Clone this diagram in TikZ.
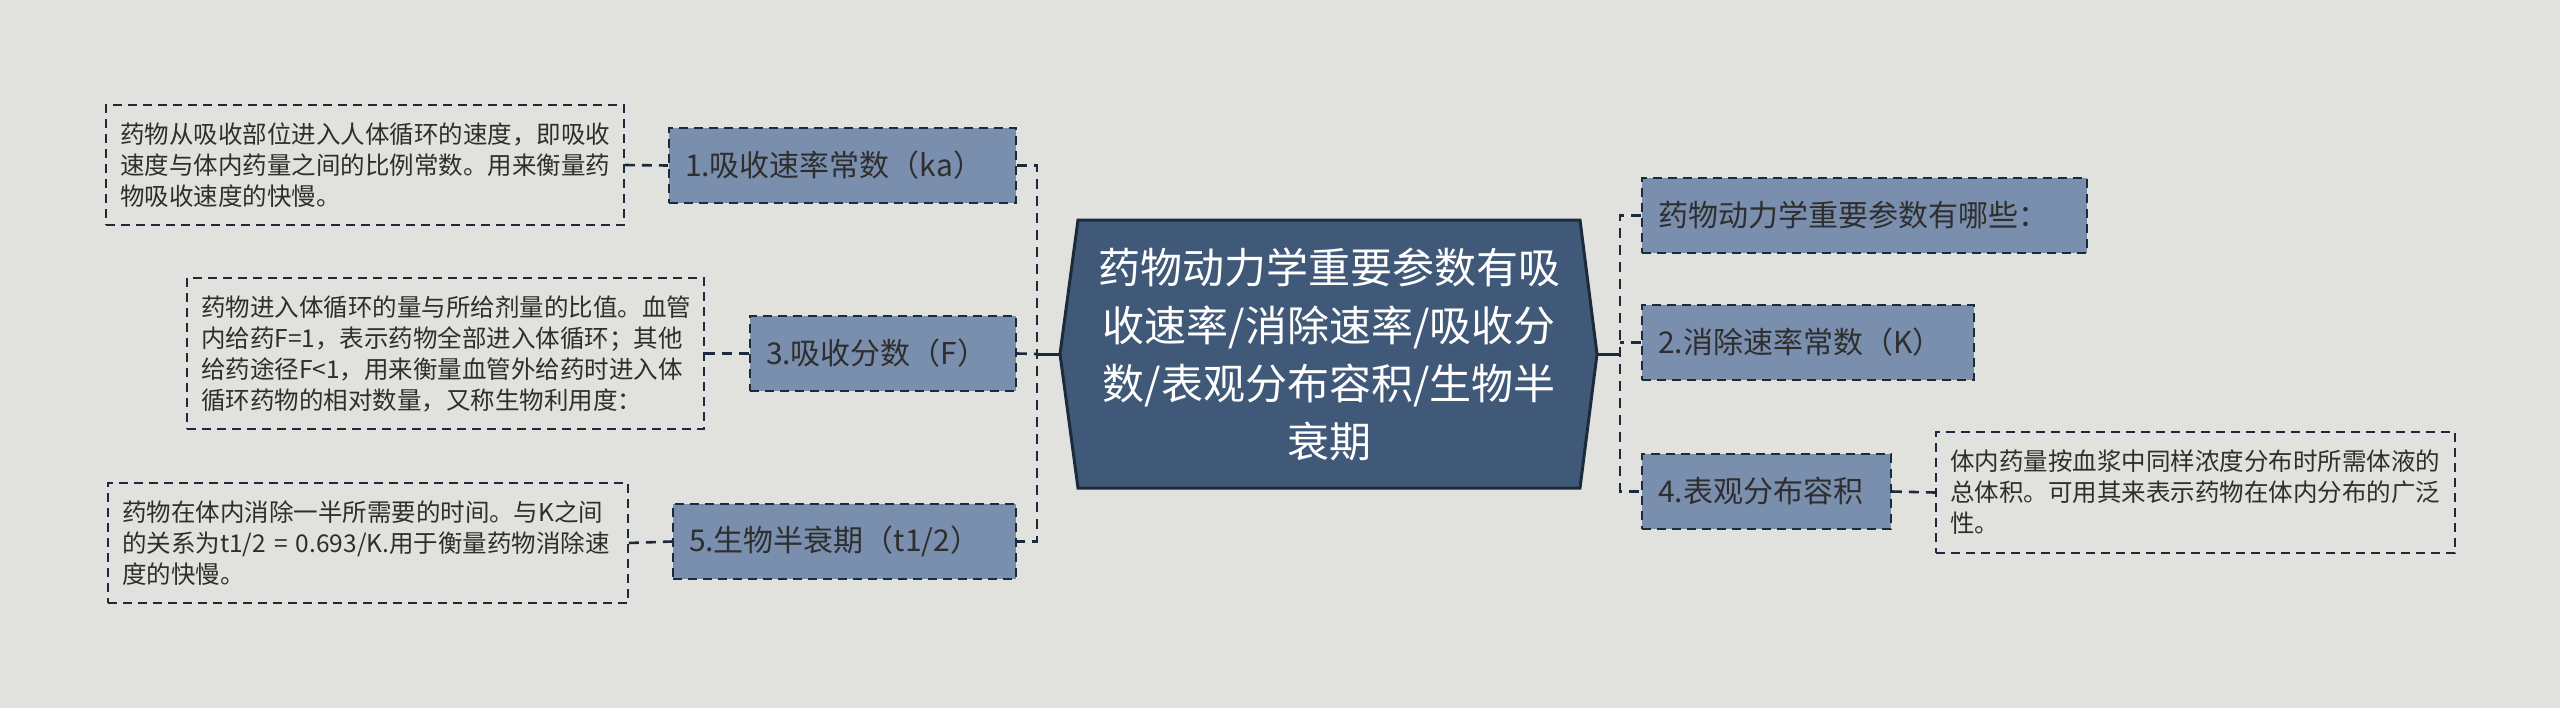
\documentclass[tikz,border=0pt]{standalone}
\usepackage{fontspec}
\setmainfont{Noto Sans CJK SC}
\usetikzlibrary{calc}
\definecolor{bg}{HTML}{E1E2DD}
\definecolor{sidefill}{HTML}{7A8EAD}
\definecolor{centrefill}{HTML}{415978}
\definecolor{edge}{HTML}{1C2B3C}
\definecolor{ink}{HTML}{2E2E2E}
\begin{document}
\begin{tikzpicture}[x=0.5pt,y=-0.5pt,
  boxdash/.style={dash pattern=on 4.5pt off 3pt},
  conndash/.style={dash pattern=on 5pt off 3.5pt},
  sidebox/.style={draw=edge, line width=0.9pt, boxdash, fill=sidefill, text=ink,
    minimum height=37.5pt, inner xsep=8pt, inner ysep=0pt, align=left,
    font=\fontsize{15pt}{18pt}\selectfont},
  notebox/.style={draw=edge, line width=0.9pt, boxdash, text=ink,
    inner xsep=7pt, inner ysep=0pt, align=left,
    font=\fontsize{12.25pt}{15.5pt}\selectfont},
  conn/.style={draw=edge, line width=1.3pt, conndash},
  solidconn/.style={draw=edge, line width=1.5pt},
  centrebox/.style={text=white, align=center, inner sep=0pt,
    font=\fontsize{21pt}{29pt}\selectfont},
]
\fill[bg] (0,0) rectangle (2560,708);
\useasboundingbox (0,0) rectangle (2560,708);

% centre shape
\filldraw[fill=centrefill, draw=edge, line width=1.5pt]
  (1078,220) -- (1580,220) -- (1597,354) -- (1580,488) -- (1078,488) -- (1060,354) -- cycle;
\node[centrebox] (c) at (1329,354) {药物动力学重要参数有吸\\收速率/消除速率/吸收分\\数/表观分布容积/生物半\\衰期};
\coordinate (cl) at (1060,354);
\coordinate (cr) at (1597,354);
\coordinate (jl) at (1037,354);
\coordinate (jr) at (1620,354);

% left side boxes
\node[sidebox, text width=157.5pt] (b1) at (842.5,165.5) {1.吸收速率常数（ka）};
\node[sidebox, text width=117pt] (b3) at (883,353.5) {3.吸收分数（F）};
\node[sidebox, text width=155.5pt] (b5) at (844.5,541.5) {5.生物半衰期（t1/2）};

% right side boxes
\node[sidebox, text width=206.5pt] (b0) at (1864.5,215.5) {药物动力学重要参数有哪些：};
\node[sidebox, text width=150pt] (b2) at (1808,342.5) {2.消除速率常数（K）};
\node[sidebox, text width=108.5pt] (b4) at (1766.5,491.5) {4.表观分布容积};

% notes
\node[notebox, text width=245pt, minimum height=60pt] (t1) at (365,165)
  {药物从吸收部位进入人体循环的速度，即吸收\\速度与体内药量之间的比例常数。用来衡量药\\物吸收速度的快慢。};
\node[notebox, text width=244.5pt, minimum height=75.5pt] (t3) at (445.5,353.5)
  {药物进入体循环的量与所给剂量的比值。血管\\内给药F=1，表示药物全部进入体循环；其他\\给药途径F<1，用来衡量血管外给药时进入体\\循环药物的相对数量，又称生物利用度：};
\node[notebox, text width=246pt, minimum height=60pt] (t5) at (368,543)
  {药物在体内消除一半所需要的时间。与K之间\\的关系为t1/2 = 0.693/K.用于衡量药物消除速\\度的快慢。};
\node[notebox, text width=245.5pt, minimum height=60.5pt] (t4) at (2195.5,492.5)
  {体内药量按血浆中同样浓度分布时所需体液的\\总体积。可用其来表示药物在体内分布的广泛\\性。};

% connectors left
\draw[solidconn] (cl) -- (jl);
\draw[conn] (b1.east) -- (b1.east -| jl) -- (b5.east -| jl) -- (b5.east);
\draw[conn] (b3.east) -- (jl);
% connectors right
\draw[solidconn] (cr) -- (jr);
\draw[conn] (b0.west) -- (b0.west -| jr) -- (b4.west -| jr) -- (b4.west);
\draw[conn] (b2.west) -- (b2.west -| jr);
% note connectors
\draw[conn] (t1.east) -- (b1.west);
\draw[conn] (t3.east) -- (b3.west);
\draw[conn] (t5.east) -- (b5.west);
\draw[conn] (b4.east) -- (t4.west);
\end{tikzpicture}
\end{document}
